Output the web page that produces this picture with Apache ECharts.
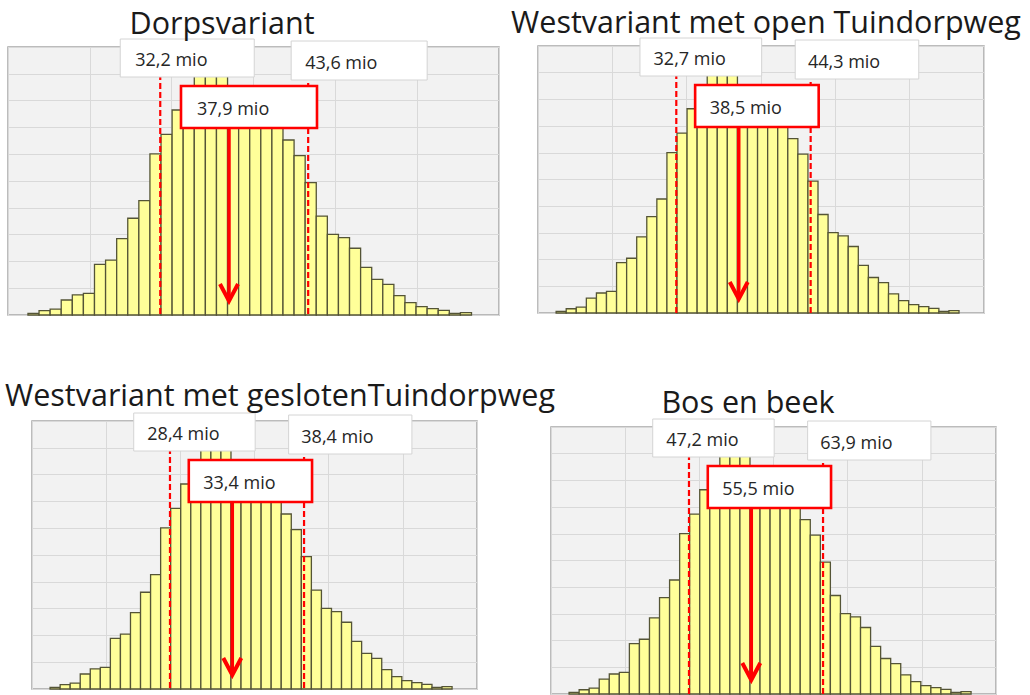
<!DOCTYPE html>
<html>
<head>
<meta charset="utf-8">
<script src="https://cdn.jsdelivr.net/npm/echarts@6/dist/echarts.min.js"></script>
<style>
html,body{margin:0;padding:0;background:#ffffff;}
#chart{width:1030px;height:695px;}
</style>
</head>
<body>
<div id="chart"></div>
<script>
// ---- data ----
const titles = ['Dorpsvariant', 'Westvariant met open Tuindorpweg', 'Westvariant met geslotenTuindorpweg', 'Bos en beek'];
const p5Labels = ['32,2 mio', '32,7 mio', '28,4 mio', '47,2 mio'];
const meanLabels = ['37,9 mio', '38,5 mio', '33,4 mio', '55,5 mio'];
const p95Labels = ['43,6 mio', '44,3 mio', '38,4 mio', '63,9 mio'];
// simulated frequency per bin (y scale 0..10), same histogram shape in all four panels
const frequencies = [0.06, 0.16, 0.22, 0.56, 0.75, 0.81, 1.89, 2.05, 2.85, 3.61,
                     4.27, 6.01, 6.74, 7.65, 8.2, 9.2, 9.0, 9.3, 8.4, 8.2,
                     7.9, 7.6, 7.1, 6.53, 5.95, 4.94, 3.69, 3.01, 2.89, 2.49,
                     1.78, 1.33, 1.14, 0.72, 0.46, 0.31, 0.24, 0.17, 0.06, 0.09];
// positions on the histogram axis (in bin widths): first bin, 5% / mean / 95% markers
const firstBin = 1.8;
const p5Bin = 13.73;
const meanBin = 19.93;
const p95Bin = 27.07;
const axisMax = 44.28;

// ---- layout ----
const grids = [
  {left: 8,   top: 47,  width: 491, height: 268},
  {left: 538, top: 46,  width: 446, height: 267},
  {left: 32,  top: 421, width: 445, height: 268},
  {left: 551, top: 427, width: 445, height: 267}
];
const titlePos = [[222, 21.5], [766, 20.5], [280, 393.5], [748, 400.5]];

const chart = echarts.init(document.getElementById('chart'), null, {renderer: 'svg'});

const FONT = '"Open Sans", "Noto Sans", sans-serif';
const RED = '#ff0000';

function renderBar(params, api) {
  const p0 = api.coord([api.value(0), api.value(2)]);
  const p1 = api.coord([api.value(1), 0]);
  return {
    type: 'rect',
    shape: {x: p0[0], y: p0[1], width: p1[0] - p0[0], height: p1[1] - p0[1]},
    style: {fill: '#ffff99', stroke: '#545436', lineWidth: 1.3}
  };
}

function makeAnno(k) {
  return function (params, api) {
    const cs = params.coordSys;
    const s = cs.width / 491;
    const top = cs.y, bottom = cs.y + cs.height;
    const x5 = api.coord([api.value(0), 0])[0];
    const xm = api.coord([api.value(1), 0])[0];
    const x95 = api.coord([api.value(2), 0])[0];
    const dashed = (x) => ({
      type: 'line',
      shape: {x1: x, y1: top, x2: x, y2: bottom},
      style: {stroke: RED, lineWidth: 2.2, lineDash: [6, 3]}
    });
    const txt = (t, x, y) => ({
      type: 'text',
      style: {text: t, x: x, y: y, align: 'left', verticalAlign: 'middle',
              fontFamily: FONT, fontSize: 18, fill: '#262626'}
    });
    return {
      type: 'group',
      children: [
        dashed(x5),
        dashed(x95),
        {type: 'rect', shape: {x: x5 - 40 * s, y: top - 8, width: 134 * s, height: 38},
         style: {fill: '#ffffff', stroke: '#d4d4d4', lineWidth: 1}},
        txt(p5Labels[k], x5 - 25 * s, top + 12),
        {type: 'rect', shape: {x: x95 - 17 * s, y: top - 6, width: 136 * s, height: 39},
         style: {fill: '#ffffff', stroke: '#d4d4d4', lineWidth: 1}},
        txt(p95Labels[k], x95 - 3 * s, top + 15),
        {type: 'line', shape: {x1: xm, y1: top + 80, x2: xm, y2: bottom - 15},
         style: {stroke: RED, lineWidth: 3.5}},
        {type: 'polyline', shape: {points: [[xm - 9, bottom - 31], [xm, bottom - 14], [xm + 9, bottom - 31]]},
         style: {stroke: RED, lineWidth: 4, fill: 'none', lineJoin: 'miter'}},
        {type: 'rect', shape: {x: xm - 48 * s, y: top + 39, width: 136 * s, height: 42},
         style: {fill: '#ffffff', stroke: RED, lineWidth: 2.6}},
        txt(meanLabels[k], xm - 32 * s, top + 61)
      ]
    };
  };
}

const binData = frequencies.map((f, i) => [firstBin + i, firstBin + i + 1, f]);

const option = {
  animation: false,
  backgroundColor: '#ffffff',
  grid: grids.map(g => Object.assign({show: true, backgroundColor: '#f2f2f2', borderColor: '#a6a6a6',
                                      borderWidth: 1.5, containLabel: false}, g)),
  xAxis: grids.map((g, i) => ({
    gridIndex: i, type: 'value', min: 0, max: axisMax, interval: axisMax / 6,
    axisLine: {show: false}, axisTick: {show: false}, axisLabel: {show: false},
    splitLine: {show: true, lineStyle: {color: '#d9d9d9', width: 1}}
  })),
  yAxis: grids.map((g, i) => ({
    gridIndex: i, type: 'value', min: 0, max: 10, interval: 1,
    axisLine: {show: false}, axisTick: {show: false}, axisLabel: {show: false},
    splitLine: {show: true, lineStyle: {color: '#d9d9d9', width: 1}}
  })),
  graphic: titles.map((t, i) => ({
    type: 'text', x: titlePos[i][0], y: titlePos[i][1], z: 10,
    style: {text: t, align: 'center', verticalAlign: 'middle', fontFamily: FONT,
            fontSize: 30.5, fill: '#1a1a1a'}
  })),
  series: []
};

grids.forEach((g, i) => {
  option.series.push({
    type: 'custom', xAxisIndex: i, yAxisIndex: i, z: 2, clip: false,
    renderItem: renderBar, encode: {x: [0, 1], y: 2}, data: binData
  });
  option.series.push({
    type: 'custom', xAxisIndex: i, yAxisIndex: i, z: 3, clip: false,
    renderItem: makeAnno(i), encode: {x: [0, 1, 2], y: 3},
    data: [[p5Bin, meanBin, p95Bin, 0]]
  });
});

chart.setOption(option);
</script>
</body>
</html>
